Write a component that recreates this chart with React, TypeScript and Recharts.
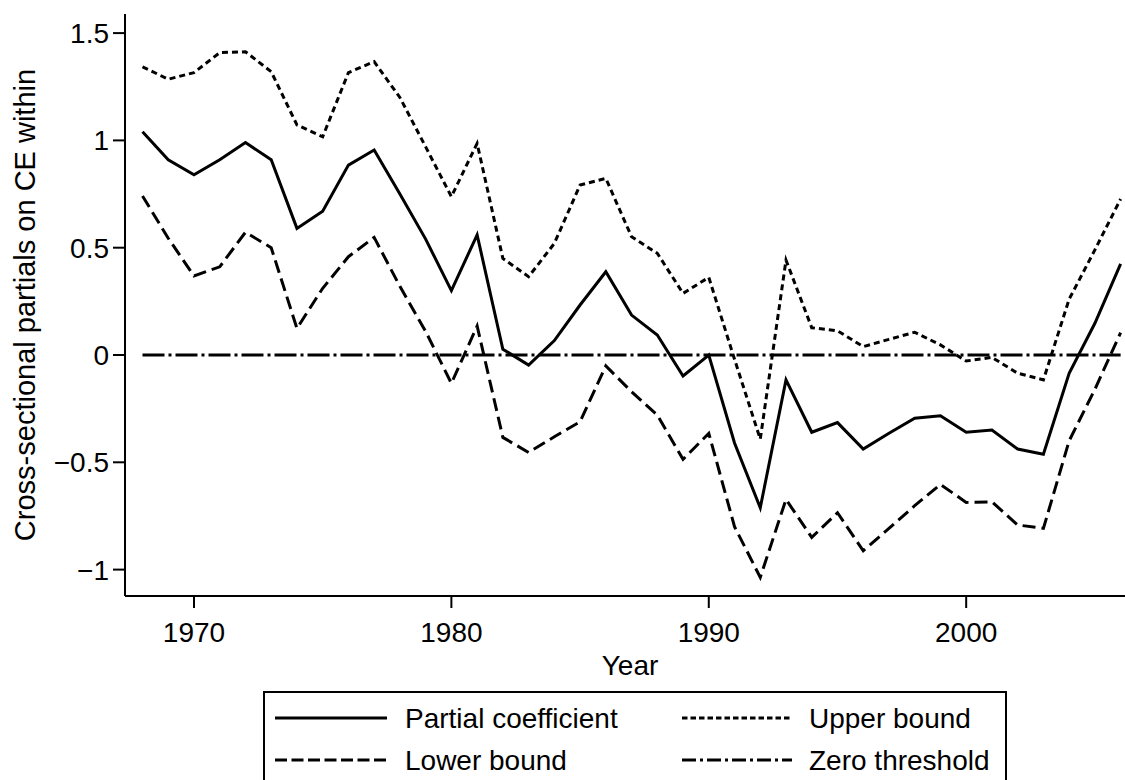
import React from "react";
import {
  LineChart,
  Line,
  XAxis,
  YAxis,
  ReferenceLine,
  Label,
} from "recharts";

const years = [
  1968, 1969, 1970, 1971, 1972, 1973, 1974, 1975, 1976, 1977, 1978, 1979, 1980,
  1981, 1982, 1983, 1984, 1985, 1986, 1987, 1988, 1989, 1990, 1991, 1992, 1993,
  1994, 1995, 1996, 1997, 1998, 1999, 2000, 2001, 2002, 2003, 2004, 2005, 2006,
];

const partial = [
  1.04, 0.91, 0.84, 0.91, 0.99, 0.91, 0.59, 0.67, 0.885, 0.955, 0.75, 0.54, 0.3,
  0.56, 0.027, -0.047, 0.067, 0.233, 0.388, 0.186, 0.093, -0.098, 0.0, -0.41,
  -0.712, -0.116, -0.36, -0.315, -0.438, -0.365, -0.295, -0.283, -0.36, -0.35,
  -0.438, -0.462, -0.085, 0.148, 0.425,
];

const upper = [
  1.343, 1.285, 1.316, 1.409, 1.413, 1.32, 1.072, 1.017, 1.316, 1.367, 1.2, 0.97,
  0.738, 0.986, 0.45, 0.365, 0.52, 0.792, 0.823, 0.551, 0.474, 0.287, 0.362,
  -0.02, -0.392, 0.442, 0.127, 0.113, 0.039, 0.073, 0.106, 0.047, -0.028,
  -0.011, -0.085, -0.116, 0.26, 0.49, 0.727,
];

const lower = [
  0.741, 0.544, 0.368, 0.411, 0.572, 0.5, 0.124, 0.311, 0.458, 0.548, 0.32, 0.11,
  -0.132, 0.135, -0.384, -0.454, -0.381, -0.311, -0.051, -0.171, -0.28, -0.486,
  -0.365, -0.8, -1.036, -0.673, -0.85, -0.735, -0.912, -0.808, -0.702, -0.603,
  -0.687, -0.684, -0.792, -0.808, -0.4, -0.16, 0.104,
];

const xTicks = [1970, 1980, 1990, 2000];
const yTicks = [-1, -0.5, 0, 0.5, 1, 1.5];

const data = years.map((year, i) => ({
  year,
  partial: partial[i],
  upper: upper[i],
  lower: lower[i],
}));

const FONT = '"Liberation Sans", Arial, Helvetica, sans-serif';

const fmtY = (v: number) => String(v).replace("-", "\u2212");

function LegendBox() {
  const row1 = 27;
  const row2 = 69;
  return (
    <svg
      width={744}
      height={100}
      style={{ position: "absolute", left: 263, top: 691, fontFamily: FONT }}
    >
      <rect x={1} y={1} width={742} height={120} fill="#fff" stroke="#000" strokeWidth={2} />
      <line x1={12} x2={124} y1={row1} y2={row1} stroke="#000" strokeWidth={3} />
      <text x={142} y={row1 + 10} fontSize={28}>Partial coefficient</text>
      <line x1={419} x2={529} y1={row1} y2={row1} stroke="#000" strokeWidth={3} strokeDasharray="5.5 3" />
      <text x={546} y={row1 + 10} fontSize={28}>Upper bound</text>
      <line x1={12} x2={124} y1={row2} y2={row2} stroke="#000" strokeWidth={3} strokeDasharray="12 4.5" />
      <text x={142} y={row2 + 10} fontSize={28}>Lower bound</text>
      <line x1={419} x2={529} y1={row2} y2={row2} stroke="#000" strokeWidth={3} strokeDasharray="14 4 3 4" />
      <text x={546} y={row2 + 10} fontSize={28}>Zero threshold</text>
    </svg>
  );
}

export default function App() {
  return (
    <div
      style={{
        position: "absolute",
        left: 0,
        top: 0,
        width: 1125,
        height: 780,
        overflow: "hidden",
        background: "#fff",
        fontFamily: FONT,
      }}
    >
      <LineChart
        width={1125}
        height={780}
        data={data}
        margin={{ top: 14, right: 0, left: 0, bottom: 100 }}
      >
        <XAxis
          dataKey="year"
          type="number"
          domain={[1967.32, 2006.17]}
          allowDataOverflow
          ticks={xTicks}
          height={84}
          tickSize={12}
          tickMargin={14}
          stroke="#000"
          strokeWidth={2}
          tick={{ fill: "#000", fontSize: 28, fontFamily: FONT }}
          tickLine={{ stroke: "#000", strokeWidth: 2 }}
        >
          <Label
            value="Year"
            position="insideBottom"
            offset={5}
            dx={5}
            style={{ fill: "#000", fontSize: 28, fontFamily: FONT }}
          />
        </XAxis>
        <YAxis
          type="number"
          domain={[-1.123, 1.589]}
          allowDataOverflow
          ticks={yTicks}
          width={125}
          tickSize={12}
          tickMargin={4}
          tickFormatter={fmtY}
          stroke="#000"
          strokeWidth={2}
          tick={{ fill: "#000", fontSize: 28, fontFamily: FONT }}
          tickLine={{ stroke: "#000", strokeWidth: 2 }}
        >
          <Label
            value="Cross-sectional partials on CE within"
            angle={-90}
            position="insideLeft"
            offset={25}
            style={{ fill: "#000", fontSize: 29, fontFamily: FONT, textAnchor: "middle" }}
          />
        </YAxis>
        <ReferenceLine
          segment={[
            { x: 1968, y: 0 },
            { x: 2006, y: 0 },
          ]}
          stroke="#000"
          strokeWidth={3}
          strokeDasharray="22 4 3 4"
        />
        <Line
          dataKey="upper"
          stroke="#000"
          strokeWidth={3}
          strokeDasharray="6 4"
          dot={false}
          isAnimationActive={false}
        />
        <Line
          dataKey="lower"
          stroke="#000"
          strokeWidth={3}
          strokeDasharray="13 6"
          dot={false}
          isAnimationActive={false}
        />
        <Line
          dataKey="partial"
          stroke="#000"
          strokeWidth={3}
          dot={false}
          isAnimationActive={false}
        />
      </LineChart>
      <LegendBox />
    </div>
  );
}
